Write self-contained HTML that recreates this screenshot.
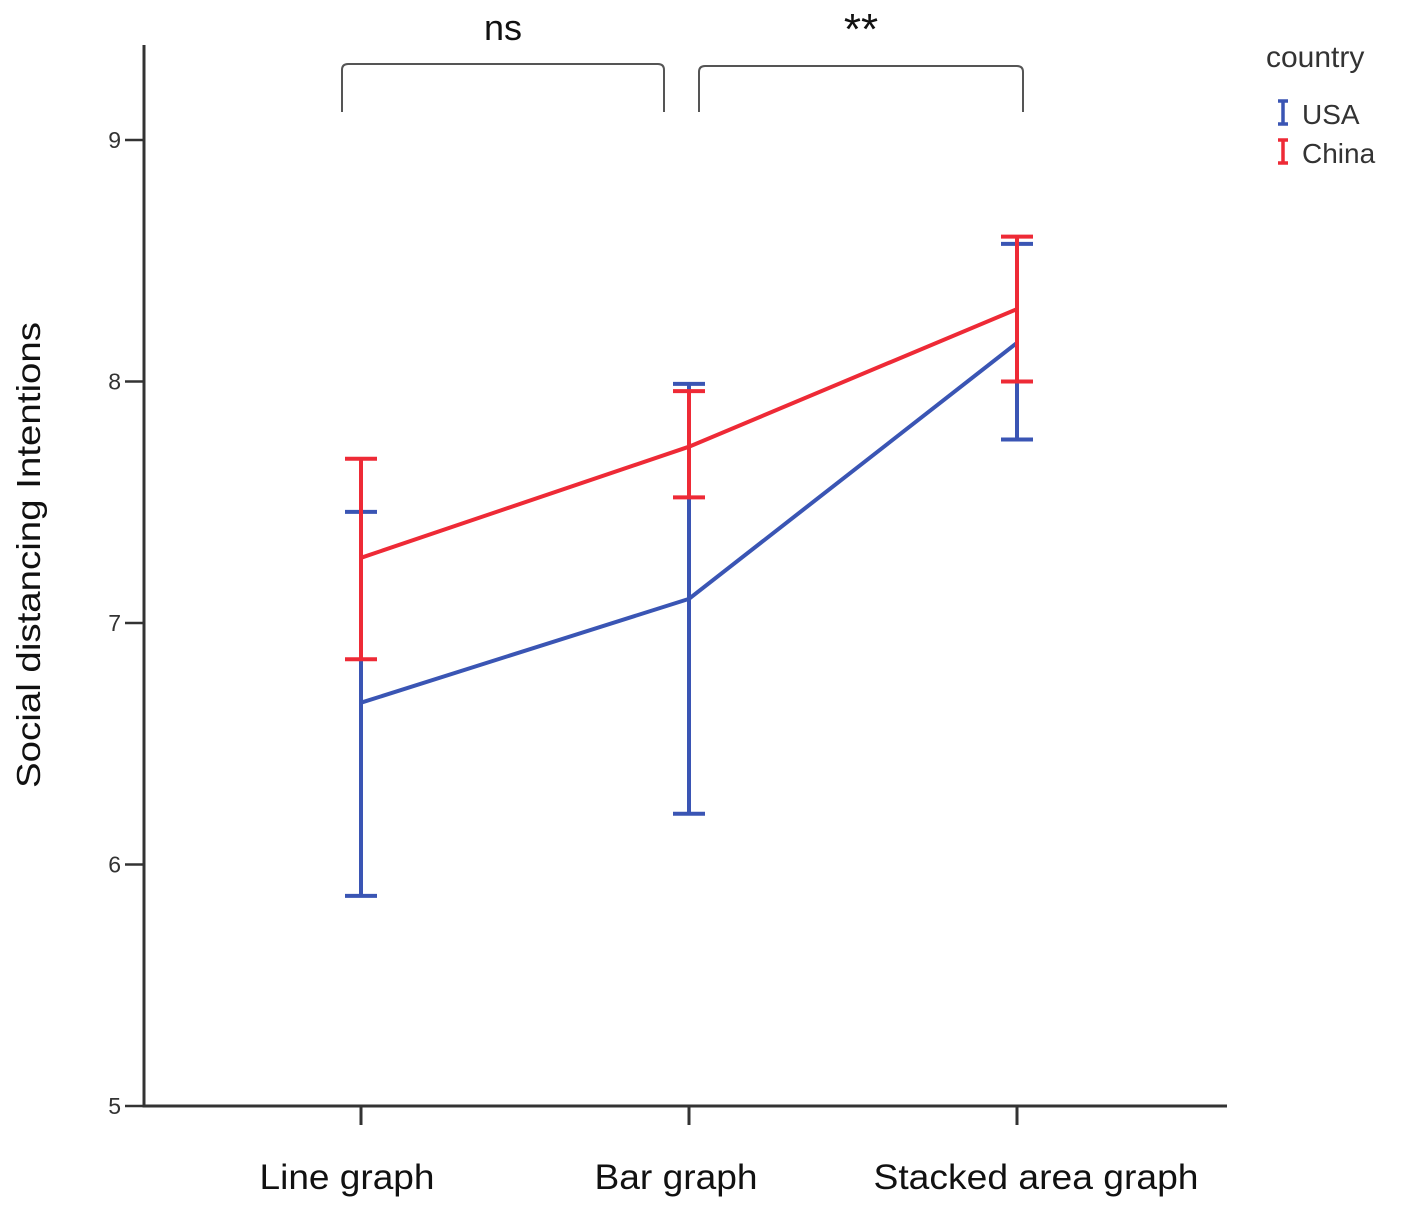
<!DOCTYPE html>
<html><head><meta charset="utf-8">
<style>
html,body{margin:0;padding:0;background:#fff;}
svg{display:block;font-family:"Liberation Sans",sans-serif;}
</style></head>
<body>
<svg id="chart" width="1417" height="1207" viewBox="0 0 1417 1207"></svg>
<script>
const categories = ["Line graph", "Bar graph", "Stacked area graph"];
const usaMean = [6.67, 7.10, 8.16];
const usaLow = [5.87, 6.21, 7.76];
const usaHigh = [7.46, 7.99, 8.57];
const chinaMean = [7.27, 7.73, 8.30];
const chinaLow = [6.85, 7.52, 8.00];
const chinaHigh = [7.68, 7.96, 8.60];
const yTicks = [5, 6, 7, 8, 9];
const seriesNames = ["USA", "China"];

const NS = "http://www.w3.org/2000/svg";
const svg = document.getElementById("chart");
function yScale(v){ return 1106 - (v - 5) * 241.5; }
function xScale(i){ return 361 + i * 328; }
function mk(tag, attrs, parent){
  const e = document.createElementNS(NS, tag);
  for (const k in attrs) e.setAttribute(k, attrs[k]);
  (parent || svg).appendChild(e);
  return e;
}

const yAxis = mk("line", {x1:144, y1:45, x2:144, y2:1106, stroke:"#333", "stroke-width":3});


const xAxis = mk("line", {x1:142.5, y1:1106, x2:1227, y2:1106, stroke:"#333", "stroke-width":3});



yTicks.forEach(t => {
  const y = yScale(t);
  const tk = mk("line", {x1:125, y1:y, x2:144, y2:y, stroke:"#333", "stroke-width":2.5});
  
  
  const lb = mk("text", {x:121, y:y + 8, "text-anchor":"end", "font-size":23, fill:"#333"});
  lb.textContent = t;
  
  
});

const labelCenters = [347, 676, 1036];
const labelWidths = [175, 163, 325];
categories.forEach((c, i) => {
  const x = xScale(i);
  const tk = mk("line", {x1:x, y1:1106, x2:x, y2:1125, stroke:"#333", "stroke-width":3});
  
  
  const lb = mk("text", {x:labelCenters[i], y:1189, "text-anchor":"middle", "font-size":35, fill:"#111", textLength:labelWidths[i], lengthAdjust:"spacingAndGlyphs"});
  lb.textContent = c;
  
  
});

const yTitle = mk("text", {x:0, y:0, transform:"translate(40,555) rotate(-90)", "text-anchor":"middle", "font-size":33, fill:"#111", textLength:466, lengthAdjust:"spacingAndGlyphs"});
yTitle.textContent = "Social distancing Intentions";



function drawSeries(mean, low, high, color, name){
  const g = mk("g", {});
  
  
  const pts = mean.map((v, i) => xScale(i) + "," + yScale(v)).join(" ");
  const line = mk("polyline", {points:pts, fill:"none", stroke:color, "stroke-width":4}, g);
  
  
  mean.forEach((v, i) => {
    const x = xScale(i), y1 = yScale(low[i]), y2 = yScale(high[i]);
    const eb = mk("path", {d:`M${x},${y1}V${y2}M${x-16},${y1}H${x+16}M${x-16},${y2}H${x+16}`, fill:"none", stroke:color, "stroke-width":4}, g);
    
    
  });
}
drawSeries(usaMean, usaLow, usaHigh, "#3a55b4", seriesNames[0]);
drawSeries(chinaMean, chinaLow, chinaHigh, "#ee2a36", seriesNames[1]);

function bracket(x1, x2, top, label, name, fs, ty){
  const p = mk("path", {d:`M${x1},112 V${top+6} Q${x1},${top} ${x1+6},${top} H${x2-6} Q${x2},${top} ${x2},${top+6} V112`, fill:"none", stroke:"#555", "stroke-width":2});
  
  
  const t = mk("text", {x:(x1 + x2) / 2, y:ty, "text-anchor":"middle", "font-size":fs, fill:"#111"});
  t.textContent = label;
  
  
}
bracket(342, 664, 64, "ns", "ns", 36, 40);
bracket(699, 1023, 66, "**", "significance", 44, 44);

const lg = mk("g", {});


const lt = mk("text", {x:1266, y:67, "font-size":30, fill:"#333"}, lg);
lt.textContent = "country";


[["#3a55b4", seriesNames[0], 114], ["#ee2a36", seriesNames[1], 153]].forEach(([c, n, y]) => {
  const e = mk("g", {}, lg);
  
  
  mk("path", {d:`M1283,${y-13}V${y+10}M1278,${y-13}H1288M1278,${y+10}H1288`, stroke:c, "stroke-width":3.5, fill:"none"}, e);
  const t = mk("text", {x:1302, y:y + 10, "font-size":28, fill:"#333"}, e);
  t.textContent = n;
});
</script>
</body></html>
